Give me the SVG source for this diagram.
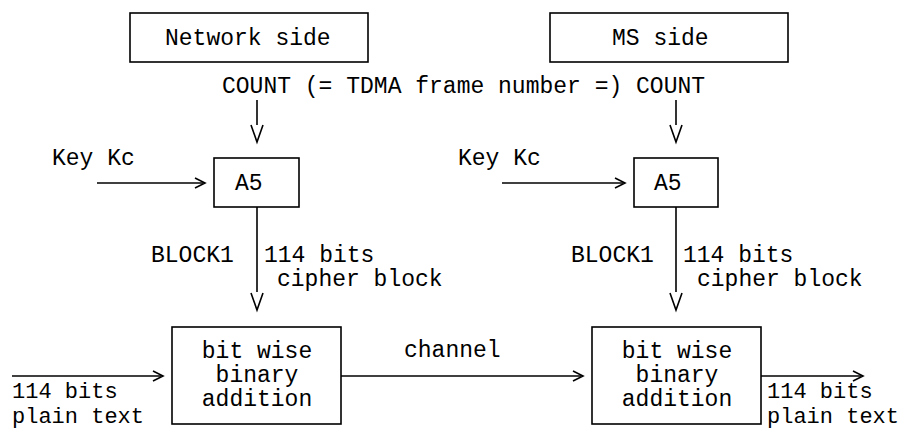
<svg xmlns="http://www.w3.org/2000/svg" width="905" height="430" viewBox="0 0 905 430">
<style>
text{font-family:"Liberation Mono","Courier New",monospace;font-size:23px;fill:#000}
.sm{font-size:22px}
.box{fill:#fff;stroke:#000;stroke-width:1.6}
.ln{fill:none;stroke:#000;stroke-width:1.6}
.mid{text-anchor:middle}
</style>
<rect width="905" height="430" fill="#fff"/>
<g id="connectors">
  <line class="ln" x1="257" y1="100" x2="257" y2="125"/>
  <polyline class="ln" points="251,125 257,142 263,125"/>
  <line class="ln" x1="676" y1="100" x2="676" y2="125"/>
  <polyline class="ln" points="670,125 676,142 682,125"/>
  <line class="ln" x1="97" y1="183" x2="203" y2="183"/>
  <polyline class="ln" points="195,178 205,183 195,188"/>
  <line class="ln" x1="502" y1="183" x2="623" y2="183"/>
  <polyline class="ln" points="615,178 625,183 615,188"/>
  <line class="ln" x1="257" y1="207" x2="257" y2="292"/>
  <polyline class="ln" points="251,293 257,310 263,293"/>
  <line class="ln" x1="676" y1="207" x2="676" y2="292"/>
  <polyline class="ln" points="670,293 676,310 682,293"/>
  <line class="ln" x1="12" y1="376" x2="161" y2="376"/>
  <polyline class="ln" points="153,371 163,376 153,381"/>
  <line class="ln" x1="341" y1="376" x2="581" y2="376"/>
  <polyline class="ln" points="573,371 583,376 573,381"/>
  <line class="ln" x1="761" y1="376" x2="861" y2="376"/>
  <polyline class="ln" points="853,371 863,376 853,381"/>
</g>
<g id="network-side">
  <rect class="box" x="130" y="13" width="238" height="49"/>
  <text x="165" y="45">Network side</text>
</g>
<g id="ms-side">
  <rect class="box" x="550" y="13" width="238" height="49"/>
  <text x="612" y="45">MS side</text>
</g>
<g id="count-label">
  <text x="222" y="93">COUNT (= TDMA frame number =) COUNT</text>
</g>
<g id="key-left"><text x="52" y="165">Key Kc</text></g>
<g id="key-right"><text x="458" y="165">Key Kc</text></g>
<g id="a5-left">
  <rect class="box" x="214" y="158" width="85" height="49"/>
  <text x="235" y="190">A5</text>
</g>
<g id="a5-right">
  <rect class="box" x="634" y="158" width="84" height="49"/>
  <text x="654" y="190">A5</text>
</g>
<g id="block-left-labels">
  <text x="151" y="262">BLOCK1</text>
  <text x="264" y="262">114 bits</text>
  <text x="277" y="286">cipher block</text>
</g>
<g id="block-right-labels">
  <text x="571" y="262">BLOCK1</text>
  <text x="683" y="262">114 bits</text>
  <text x="697" y="286">cipher block</text>
</g>
<g id="add-left">
  <rect class="box" x="172" y="327" width="169" height="97"/>
  <text class="mid" x="257" y="358">bit wise</text>
  <text class="mid" x="257" y="382">binary</text>
  <text class="mid" x="257" y="406">addition</text>
</g>
<g id="add-right">
  <rect class="box" x="592" y="327" width="169" height="97"/>
  <text class="mid" x="677" y="358">bit wise</text>
  <text class="mid" x="677" y="382">binary</text>
  <text class="mid" x="677" y="406">addition</text>
</g>
<g id="channel-label"><text x="404" y="357">channel</text></g>
<g id="input-label">
  <text class="sm" x="12" y="398">114 bits</text>
  <text class="sm" x="12" y="423">plain text</text>
</g>
<g id="output-label">
  <text class="sm" x="767" y="398">114 bits</text>
  <text class="sm" x="767" y="423">plain text</text>
</g>
</svg>
